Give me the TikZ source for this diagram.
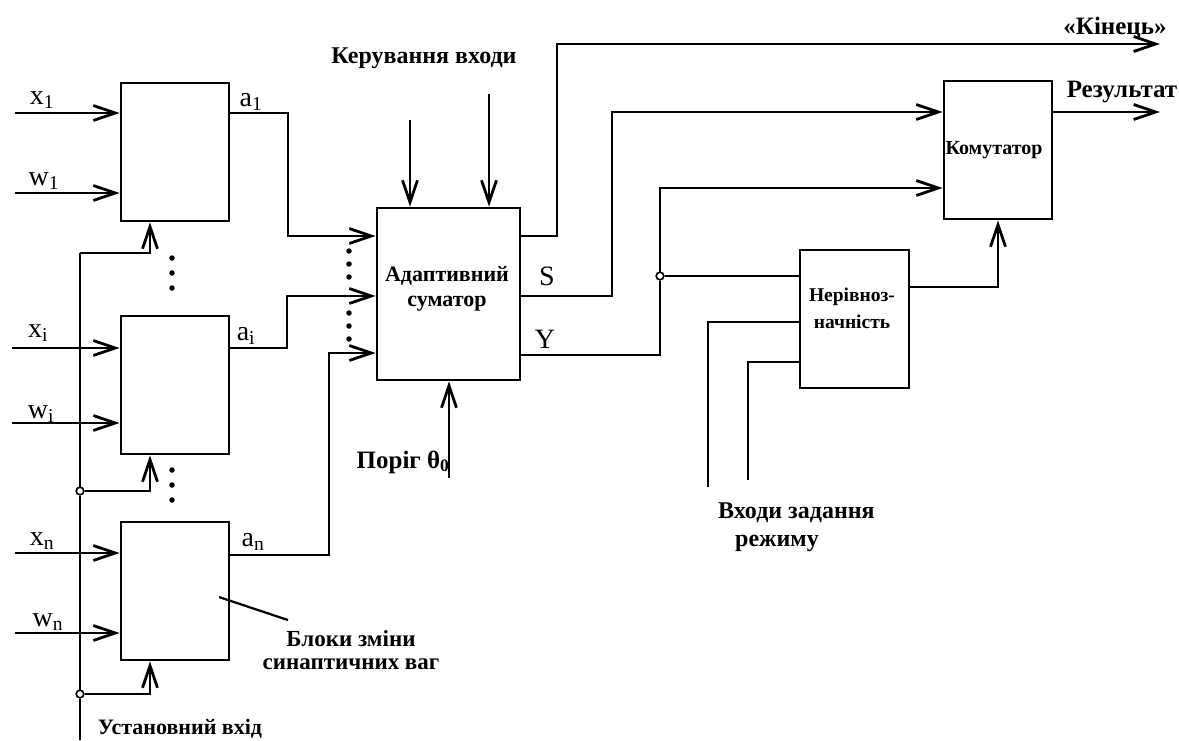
\documentclass[tikz,border=0pt]{standalone}
\usepackage{fontspec}
\setmainfont{Liberation Serif}
\usetikzlibrary{arrows.meta}
\begin{document}
\begin{tikzpicture}[x=1pt,y=-1pt,
  wire/.style={line width=2.8pt, line join=miter},
  arr/.style={wire, -{Straight Barb[length=22pt,width=15pt,line width=2.8pt]}},
  blk/.style={draw, line width=2.8pt, minimum width=108pt, minimum height=138pt, inner sep=0pt, align=center},
  lbl/.style={font=\bfseries\fontsize{22}{26}\selectfont, inner sep=0pt, align=center},
  sym/.style={font=\fontsize{28}{30}\selectfont, inner sep=0pt},
  dotn/.style={circle, fill, inner sep=0pt, minimum size=5.5pt},
  jn/.style={circle, draw, fill=white, line width=1.5pt, inner sep=0pt, minimum size=7.5pt}]
\useasboundingbox (0,0) rectangle (1179,740);
% blocks
\node[blk] (b1) at (175,152) {};
\node[blk] (bi) at (175,385) {};
\node[blk] (bn) at (175,591) {};
\node[blk, minimum width=143pt, minimum height=172pt] (sum) at (448.5,294) {};
\node[lbl] (tsum) at (447,289) {Адаптивний\\[-1pt]суматор};
\node[blk] (kom) at (998,150) {};
\node[lbl, font=\bfseries\fontsize{20}{22}\selectfont] (tkom) at (994,150) {Комутатор};
\node[blk, minimum width=109pt] (ner) at (854.5,319) {};
\node[lbl, font=\bfseries\fontsize{19.5}{27}\selectfont] (tner) at (852,308) {Нерівноз-\\начність};
% inputs of the weight blocks
\coordinate (x1s) at (15,113);
\coordinate (w1s) at (15,193);
\coordinate (xis) at (12,348);
\coordinate (wis) at (12,423);
\coordinate (xns) at (15,553);
\coordinate (wns) at (15,633);
\draw[arr] (x1s) -- (x1s -| b1.west);
\draw[arr] (w1s) -- (w1s -| b1.west);
\draw[arr] (xis) -- (xis -| bi.west);
\draw[arr] (wis) -- (wis -| bi.west);
\draw[arr] (xns) -- (xns -| bn.west);
\draw[arr] (wns) -- (wns -| bn.west);
\node[sym] (lx1) at (42,100) {x\textsubscript{1}};
\node[sym] (lw1) at (44,181) {w\textsubscript{1}};
\node[sym] (lxi) at (38,333) {x\textsubscript{i}};
\node[sym] (lwi) at (41,414) {w\textsubscript{i}};
\node[sym] (lxn) at (42,541) {x\textsubscript{n}};
\node[sym] (lwn) at (48,622) {w\textsubscript{n}};
% setting bus
\coordinate (busB) at (80,740);
\coordinate (busT) at (80,253);
\node[jn] (ji) at (80,491) {};
\node[jn] (jn2) at (80,694) {};
\draw[wire] (busB) -- (jn2) -- (ji) -- (busT);
\draw[arr] (busT) -| ([xshift=-25pt]b1.south);
\draw[arr] (ji) -| ([xshift=-25pt]bi.south);
\draw[arr] (jn2) -| ([xshift=-25pt]bn.south);
\node[jn] at (80,491) {};
\node[jn] at (80,694) {};
\node[lbl] (lset) at (180,729) {Установний вхід};
% dots
\foreach \y in {258,273,288,470,485,500} \node[dotn] at (172,\y) {};
\foreach \y in {251,264,277,313,326,339} \node[dotn] at (349,\y) {};
% outputs a
\coordinate (a1c) at (288,113);
\coordinate (aic) at (287,348);
\coordinate (anc) at (329,555);
\draw[arr] (b1.east |- a1c) -- (a1c) |- (sum.west |- 0,236);
\draw[arr] (bi.east |- aic) -- (aic) |- (sum.west |- 0,296);
\draw[arr] (bn.east |- anc) -- (anc) |- (sum.west |- 0,353);
\node[sym] (la1) at (251,102) {a\textsubscript{1}};
\node[sym] (lai) at (246,336) {a\textsubscript{i}};
\node[sym] (lan) at (253,542) {a\textsubscript{n}};
% pointer label
\coordinate (pt1) at (219,597);
\coordinate (pt2) at (288,620);
\draw[line width=2.2pt] (pt1) -- (pt2);
\node[lbl, font=\bfseries\fontsize{23}{26}\selectfont] (lblk1) at (351,639) {Блоки зміни};
\node[lbl, font=\bfseries\fontsize{23}{26}\selectfont] (lblk2) at (351,664) {синаптичних ваг};
% adder inputs
\coordinate (k1) at (410,120);
\coordinate (k2) at (489,94);
\draw[arr] (k1) -- (k1 |- sum.north);
\draw[arr] (k2) -- (k2 |- sum.north);
\node[lbl, font=\bfseries\fontsize{24}{26}\selectfont] (lker) at (424,58) {Керування входи};
\coordinate (th) at (449,478);
\draw[arr] (th) -- (th |- sum.south);
\node[lbl, font=\bfseries\fontsize{25}{26}\selectfont] (lth) at (403,462) {Поріг θ\textsubscript{0}};
% adder outputs
\coordinate (e1) at (557,44);
\coordinate (eend) at (1160,44);
\draw[arr] (sum.east |- 0,236) -| (e1) -- (eend);
\node[lbl, font=\bfseries\fontsize{25}{26}\selectfont] (lend) at (1115,28) {«Кінець»};
\coordinate (s1) at (612,112);
\draw[arr] (sum.east |- 0,296) -| (s1) -- (s1 -| kom.west);
\node[sym] (lS) at (547,276) {S};
\node[jn] (jy) at (660,276) {};
\coordinate (y1) at (660,188);
\draw[wire] (sum.east |- 0,355) -| (jy);
\draw[arr] (jy) -- (y1) -- (y1 -| kom.west);
\draw[wire] (jy) -- (jy -| ner.west);
\node[jn] at (660,276) {};
\node[sym] (lY) at (545,339) {Y};
% mode inputs
\coordinate (m1) at (708,487);
\coordinate (m2) at (748,480);
\draw[wire] (m1) |- (ner.west |- 0,322);
\draw[wire] (m2) |- (ner.west |- 0,362);
\node[lbl, anchor=west, font=\bfseries\fontsize{24}{26}\selectfont] (lm1) at (718,513) {Входи задання};
\node[lbl, anchor=west, font=\bfseries\fontsize{24}{26}\selectfont] (lm2) at (735,543) {режиму};
% ner to kom
\draw[arr] (ner.east |- 0,287) -| (kom.south);
% result
\coordinate (r1) at (1160,112);
\draw[arr] (kom.east |- r1) -- (r1);
\node[lbl, font=\bfseries\fontsize{25}{26}\selectfont] (lres) at (1122,92) {Результат};
\end{tikzpicture}
\end{document}
